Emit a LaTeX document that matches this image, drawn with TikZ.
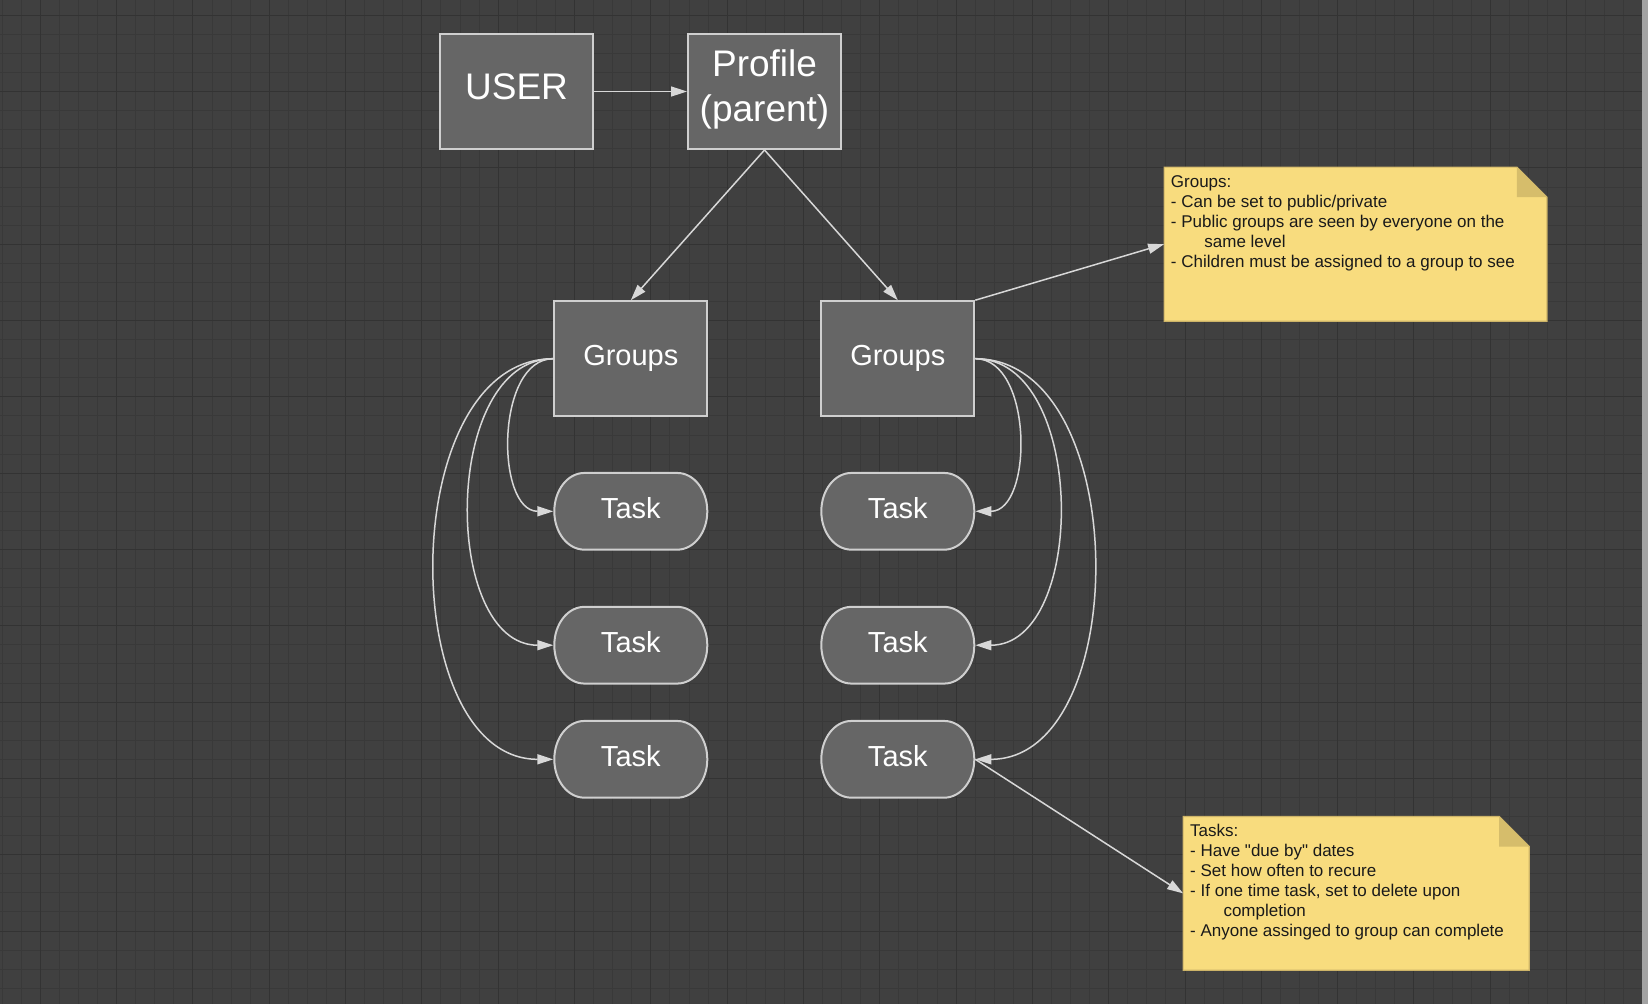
\documentclass[tikz,border=0pt]{standalone}
\usepackage{fontspec}
\setmainfont{Liberation Sans}[Ligatures=TeXOff]
\usetikzlibrary{arrows.meta}
\definecolor{bgc}{HTML}{404040}
\definecolor{gridminor}{HTML}{393939}
\definecolor{gridmajor}{HTML}{333333}
\definecolor{boxfill}{HTML}{666666}
\definecolor{boxline}{HTML}{CFCFCF}
\definecolor{connc}{HTML}{D8D8D8}
\definecolor{notefill}{HTML}{F8DC7E}
\definecolor{notefold}{HTML}{D6BD6B}
\definecolor{noteline}{HTML}{CDB468}
\definecolor{scrollc}{HTML}{A3A3A3}
\definecolor{notetxt}{HTML}{1A1A1A}
\pgfdeclarelayer{gridlayer}
\pgfdeclarelayer{shapelayer}
\pgfsetlayers{gridlayer,shapelayer,main}
\begin{document}
\begin{tikzpicture}[x=1pt,y=-1pt,
  box/.style={draw=boxline, line width=2pt, fill=boxfill, minimum width=153pt,
    minimum height=115pt, inner sep=0pt, text=white},
  bigfont/.style={font=\fontsize{37}{45}\selectfont},
  groupbox/.style={box, font=\fontsize{29}{35}\selectfont, text height=21pt, text depth=8.4pt},
  taskbox/.style={draw=none, fill=none, minimum width=155pt, minimum height=78.7pt,
    inner sep=0pt, outer sep=0pt, text=white,
    font=\fontsize{29}{35}\selectfont, text height=21.5pt, text depth=7.5pt},
  taskshape/.style={draw=boxline, line width=2pt, fill=boxfill},
  conn/.style={draw=connc, line width=1.5pt, -{Triangle[length=16pt,width=10pt]}},
  notearea/.style={draw=none, fill=none, inner sep=0pt},
  notetext/.style={text=notetxt, align=left, inner sep=0pt, anchor=north west,
    font=\fontsize{17}{20}\selectfont}
]
\useasboundingbox (0,0) rectangle (1648,1004);
\begin{pgfonlayer}{gridlayer}
\fill[bgc] (0,0) rectangle (1648,1004);
\foreach \i in {0,...,86} {
  \pgfmathsetmacro\xx{round(1.7+\i*19.078)+0.5}
  \draw[gridminor, line width=1pt] (\xx,0) -- (\xx,1004);
}
\foreach \i in {0,...,52} {
  \pgfmathsetmacro\yy{round(14.8+\i*19.078)+0.5}
  \draw[gridminor, line width=1pt] (0,\yy) -- (1648,\yy);
}
\foreach \i in {2,6,...,86} {
  \pgfmathsetmacro\xx{round(1.7+\i*19.078)+0.5}
  \draw[gridmajor, line width=1pt] (\xx,0) -- (\xx,1004);
}
\foreach \i in {0,4,...,52} {
  \pgfmathsetmacro\yy{round(14.8+\i*19.078)+0.5}
  \draw[gridmajor, line width=1pt] (0,\yy) -- (1648,\yy);
}
\fill[scrollc] (1642,0) rectangle (1648,1004);
\end{pgfonlayer}

% nodes
\node[box, bigfont, text height=27pt, text depth=11.4pt] (user) at (516.5,91.5) {USER};
\node[box, bigfont, text height=0pt, text depth=0pt] (profile) at (764.5,91.5)
  {\makebox[0pt]{\raisebox{14.8pt}{Profile}}\makebox[0pt]{\raisebox{-30.2pt}{(parent)}}};
\node[groupbox] (gl) at (630.8,358.7) {Groups};
\node[groupbox] (gr) at (897.8,358.7) {Groups};
\node[taskbox] (tl1) at (630.8,511.3) {Task};
\node[taskbox] (tl2) at (630.8,645.2) {Task};
\node[taskbox] (tl3) at (630.8,759.3) {Task};
\node[taskbox] (tr1) at (897.8,511.3) {Task};
\node[taskbox] (tr2) at (897.8,645.2) {Task};
\node[taskbox] (tr3) at (897.8,759.3) {Task};

\begin{pgfonlayer}{shapelayer}
\foreach \t in {tl1,tl2,tl3,tr1,tr2,tr3} {
  \filldraw[taskshape]
    ([xshift=31pt,yshift=-1pt]\t.north west) -- ([xshift=-31pt,yshift=-1pt]\t.north east)
    arc[start angle=90, end angle=-90, x radius=30pt, y radius=38.35pt]
    -- ([xshift=31pt,yshift=1pt]\t.south west)
    arc[start angle=270, end angle=90, x radius=30pt, y radius=38.35pt] -- cycle;
}
\end{pgfonlayer}

% notes
\node[notearea, minimum width=382.4pt, minimum height=153.7pt] (gnote) at (1355.5,244.15) {};
\filldraw[fill=notefill, draw=noteline, line width=1.2pt]
  (gnote.north west) -- ([xshift=-30pt]gnote.north east) -- ([yshift=-30pt]gnote.north east)
  -- (gnote.south east) -- (gnote.south west) -- cycle;
\fill[notefold] ([xshift=-30pt]gnote.north east) -- ([xshift=-30pt,yshift=-30pt]gnote.north east)
  -- ([yshift=-30pt]gnote.north east) -- cycle;
\node[notetext] (gtext) at (1170.7,175.3) {Groups:\\
- Can be set to public/private\\
- Public groups are seen by everyone on the\\
\hspace*{33.5pt}same level\\
- Children must be assigned to a group to see};

\node[notearea, minimum width=345.7pt, minimum height=153.3pt] (tnote) at (1356.15,893.35) {};
\filldraw[fill=notefill, draw=noteline, line width=1.2pt]
  (tnote.north west) -- ([xshift=-30pt]tnote.north east) -- ([yshift=-30pt]tnote.north east)
  -- (tnote.south east) -- (tnote.south west) -- cycle;
\fill[notefold] ([xshift=-30pt]tnote.north east) -- ([xshift=-30pt,yshift=-30pt]tnote.north east)
  -- ([yshift=-30pt]tnote.north east) -- cycle;
\node[notetext] (ttext) at (1190,823.6) {Tasks:\\
- Have "due by" dates\\
- Set how often to recure\\
- If one time task, set to delete upon\\
\hspace*{33.3pt}completion\\
- Anyone assinged to group can complete};

% connectors
\draw[conn] (user) -- (profile);
\draw[conn] (profile.south) -- (gl.north);
\draw[conn] (profile.south) -- (gr.north);
\draw[conn] (gl.west) .. controls +(-58,0) and +(-58,0) .. (tl1.west);
\draw[conn] (gl.west) .. controls +(-112,0) and +(-112,0) .. (tl2.west);
\draw[conn] (gl.west) .. controls +(-158,0) and +(-158,0) .. (tl3.west);
\draw[conn] (gr.east) .. controls +(58,0) and +(58,0) .. (tr1.east);
\draw[conn] (gr.east) .. controls +(112,0) and +(112,0) .. (tr2.east);
\draw[conn] (gr.east) .. controls +(158,0) and +(158,0) .. (tr3.east);
\draw[conn] (gr.north east) -- (gnote.west);
\draw[conn] (tr3.east) -- (tnote.west);
\end{tikzpicture}
\end{document}
